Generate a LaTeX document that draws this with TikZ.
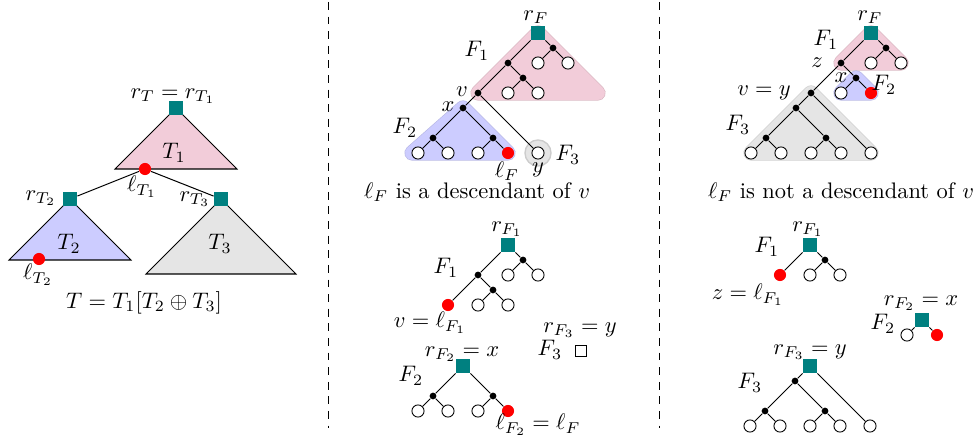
\documentclass[tikz,border=0pt]{standalone}
\usepackage{amsmath}
\begin{document}
\begin{tikzpicture}[x=0.445pt,y=-0.445pt,
  rootsq/.style={rectangle,fill=teal,minimum size=6.2pt,inner sep=0pt},
  wsq/.style={rectangle,draw=black,fill=white,minimum size=5.2pt,inner sep=0pt,line width=0.4pt},
  bdot/.style={circle,fill=black,minimum size=3pt,inner sep=0pt},
  wleaf/.style={circle,draw=black,fill=white,minimum size=5.4pt,inner sep=0pt,line width=0.4pt},
  rleaf/.style={circle,fill=red,minimum size=5.4pt,inner sep=0pt},
  edge/.style={draw=black,line width=0.45pt},
  regedge/.style={line width=6.8pt,line join=round},
  region/.style={line width=6.2pt,line join=round},
  tri/.style={draw=black,line width=0.45pt},
  lbl/.style={inner sep=0pt},
  sep/.style={dash pattern=on 3.5pt off 3pt,line width=0.4pt}
]
\useasboundingbox (0,0) rectangle (977,437);

% separators
\coordinate (s1a) at (328,2); \coordinate (s1b) at (328,428);
\coordinate (s2a) at (659,2); \coordinate (s2b) at (659,428);
\draw[sep] (s1a) -- (s1b);
\draw[sep] (s2a) -- (s2b);

% ---------------- left panel ----------------
\filldraw[tri,fill=purple!20] (176,108)--(115,169)--(237,169)--cycle;
\filldraw[tri,fill=blue!20] (70,199)--(9,260)--(131,260)--cycle;
\filldraw[tri,fill=gray!20] (221,199)--(146,274)--(296,274)--cycle;
\node[rootsq] (tr1) at (176,108) {};
\node[rleaf] (tl1) at (145,169) {};
\node[rootsq] (tr2) at (70,199) {};
\node[rootsq] (tr3) at (221,199) {};
\node[rleaf] (tl2) at (39,259) {};
\draw[edge] (tl1) -- (tr2);
\draw[edge] (tl1) -- (tr3);
\node[lbl] (ltr1) at (173,96) {$r_T = r_{T_1}$};
\node[lbl] (lT1) at (174,153) {$T_1$};
\node[lbl] (lll1) at (142,187) {$\ell_{T_1}$};
\node[lbl] (ltr2) at (41,198) {$r_{T_2}$};
\node[lbl] (lT2) at (69,244) {$T_2$};
\node[lbl] (lll2) at (38,275) {$\ell_{T_2}$};
\node[lbl] (ltr3) at (195,199) {$r_{T_3}$};
\node[lbl] (lT3) at (220,244) {$T_3$};
\node[lbl] (lform) at (144,303) {$T = T_1[T_2 \oplus T_3]$};

% ---------------- middle top ----------------
\begin{scope}[shift={(538,33)},x=6.675pt,y=-6.675pt]
 \filldraw[regedge,fill=purple!20!white!90!black,draw=purple!20!white!90!black] (0,0)--(-4,4)--(4,4)--cycle;
 \filldraw[region,fill=purple!20,draw=purple!20] (0,0)--(-4,4)--(4,4)--cycle;
 \filldraw[regedge,fill=blue!20!white!90!black,draw=blue!20!white!90!black] (-5,5)--(-8.4,8)--(-2,8)--cycle;
 \filldraw[region,fill=blue!20,draw=blue!20] (-5,5)--(-8.4,8)--(-2,8)--cycle;
 \filldraw[fill=gray!20,draw=gray!40,line width=0.6pt] (0,8) circle[radius=5.8pt];
 \node[rootsq] (mr) at (0,0) {};
 \node[bdot] (ma) at (1,1) {};
 \node[wleaf] (ma1) at (0,2) {};
 \node[wleaf] (ma2) at (2,2) {};
 \node[bdot] (mb) at (-2,2) {};
 \node[bdot] (mc) at (-1,3) {};
 \node[wleaf] (mc1) at (-2,4) {};
 \node[wleaf] (mc2) at (0,4) {};
 \node[bdot] (mv) at (-4,4) {};
 \node[bdot] (mx) at (-5,5) {};
 \node[bdot] (mx1) at (-7,7) {};
 \node[bdot] (mx2) at (-3,7) {};
 \node[wleaf] (ml1) at (-8,8) {};
 \node[wleaf] (ml2) at (-6,8) {};
 \node[wleaf] (ml3) at (-4,8) {};
 \node[rleaf] (ml4) at (-2,8) {};
 \node[wleaf] (my) at (0,8) {};
 \draw[edge] (mr)--(ma); \draw[edge] (mr)--(mb);
 \draw[edge] (ma)--(ma1); \draw[edge] (ma)--(ma2);
 \draw[edge] (mb)--(mv); \draw[edge] (mb)--(mc);
 \draw[edge] (mc)--(mc1); \draw[edge] (mc)--(mc2);
 \draw[edge] (mv)--(mx); \draw[edge] (mv)--(my);
 \draw[edge] (mx)--(mx1); \draw[edge] (mx)--(mx2);
 \draw[edge] (mx1)--(ml1); \draw[edge] (mx1)--(ml2);
 \draw[edge] (mx2)--(ml3); \draw[edge] (mx2)--(ml4);
\end{scope}
\node[lbl] (mlrf) at (536,17) {$r_F$};
\node[lbl] (mlF1) at (477,51) {$F_1$};
\node[lbl] (mlv) at (462,92) {$v$};
\node[lbl] (mlx) at (448,107) {$x$};
\node[lbl] (mlF2) at (405,128) {$F_2$};
\node[lbl] (mlF3) at (568,155) {$F_3$};
\node[lbl] (mllF) at (507,171) {$\ell_F$};
\node[lbl] (mly) at (538,170) {$y$};
\node[lbl] (mtitle) at (477,192) {$\ell_F$ is a descendant of $v$};

% ---------------- middle bottom ----------------
\begin{scope}[shift={(508,245)},x=6.675pt,y=-6.675pt]
 \node[rootsq] (nr) at (0,0) {};
 \node[bdot] (na) at (1,1) {};
 \node[wleaf] (na1) at (0,2) {};
 \node[wleaf] (na2) at (2,2) {};
 \node[bdot] (nb) at (-2,2) {};
 \node[bdot] (nc) at (-1,3) {};
 \node[wleaf] (nc1) at (-2,4) {};
 \node[wleaf] (nc2) at (0,4) {};
 \node[rleaf] (nv) at (-4,4) {};
 \draw[edge] (nr)--(na); \draw[edge] (nr)--(nb);
 \draw[edge] (na)--(na1); \draw[edge] (na)--(na2);
 \draw[edge] (nb)--(nv); \draw[edge] (nb)--(nc);
 \draw[edge] (nc)--(nc1); \draw[edge] (nc)--(nc2);
\end{scope}
\node[lbl] (nlrf) at (507,229) {$r_{F_1}$};
\node[lbl] (nlF1) at (446,268) {$F_1$};
\node[lbl] (nlv) at (430,323) {$v = \ell_{F_1}$};
\node[lbl] (nlrf3) at (580,330) {$r_{F_3} = y$};
\node[lbl] (nlF3) at (550,350) {$F_3$};
\node[wsq] (nsq) at (581,351) {};
\begin{scope}[shift={(463,366)},x=6.675pt,y=-6.675pt]
 \node[rootsq] (pr) at (0,0) {};
 \node[bdot] (pa) at (-2,2) {};
 \node[bdot] (pb) at (2,2) {};
 \node[wleaf] (pl1) at (-3,3) {};
 \node[wleaf] (pl2) at (-1,3) {};
 \node[wleaf] (pl3) at (1,3) {};
 \node[rleaf] (pl4) at (3,3) {};
 \draw[edge] (pr)--(pa); \draw[edge] (pr)--(pb);
 \draw[edge] (pa)--(pl1); \draw[edge] (pa)--(pl2);
 \draw[edge] (pb)--(pl3); \draw[edge] (pb)--(pl4);
\end{scope}
\node[lbl] (plr) at (462,354) {$r_{F_2} = x$};
\node[lbl] (plF2) at (411,376) {$F_2$};
\node[lbl] (pll) at (538,425) {$\ell_{F_2} = \ell_F$};

% ---------------- right top ----------------
\begin{scope}[shift={(871,33)},x=6.675pt,y=-6.675pt]
 \filldraw[regedge,fill=gray!20!white!90!black,draw=gray!20!white!90!black] (-4,4)--(-8,8)--(0,8)--cycle;
 \filldraw[region,fill=gray!20,draw=gray!20] (-4,4)--(-8,8)--(0,8)--cycle;
 \filldraw[regedge,fill=purple!20!white!90!black,draw=purple!20!white!90!black] (0,0)--(-2,2)--(2,2)--cycle;
 \filldraw[region,fill=purple!20,draw=purple!20] (0,0)--(-2,2)--(2,2)--cycle;
 \filldraw[regedge,fill=blue!20!white!90!black,draw=blue!20!white!90!black] (-1,3)--(-2,4)--(0,4)--cycle;
 \filldraw[region,fill=blue!20,draw=blue!20] (-1,3)--(-2,4)--(0,4)--cycle;
 \node[rootsq] (qr) at (0,0) {};
 \node[bdot] (qa) at (1,1) {};
 \node[wleaf] (qa1) at (0,2) {};
 \node[wleaf] (qa2) at (2,2) {};
 \node[bdot] (qz) at (-2,2) {};
 \node[bdot] (qx) at (-1,3) {};
 \node[wleaf] (qx1) at (-2,4) {};
 \node[rleaf] (qx2) at (0,4) {};
 \node[bdot] (qy) at (-4,4) {};
 \node[bdot] (qb) at (-5,5) {};
 \node[bdot] (qb1) at (-7,7) {};
 \node[bdot] (qb2) at (-3,7) {};
 \node[wleaf] (ql1) at (-8,8) {};
 \node[wleaf] (ql2) at (-6,8) {};
 \node[wleaf] (ql3) at (-4,8) {};
 \node[wleaf] (ql4) at (-2,8) {};
 \node[wleaf] (ql5) at (0,8) {};
 \draw[edge] (qr)--(qa); \draw[edge] (qr)--(qz);
 \draw[edge] (qa)--(qa1); \draw[edge] (qa)--(qa2);
 \draw[edge] (qz)--(qx); \draw[edge] (qz)--(qy);
 \draw[edge] (qx)--(qx1); \draw[edge] (qx)--(qx2);
 \draw[edge] (qy)--(qb); \draw[edge] (qy)--(ql5);
 \draw[edge] (qb)--(qb1); \draw[edge] (qb)--(qb2);
 \draw[edge] (qb1)--(ql1); \draw[edge] (qb1)--(ql2);
 \draw[edge] (qb2)--(ql3); \draw[edge] (qb2)--(ql4);
\end{scope}
\node[lbl] (qlrf) at (870,17) {$r_F$};
\node[lbl] (qlF1) at (826,40) {$F_1$};
\node[lbl] (qlz) at (817,63) {$z$};
\node[lbl] (qlx) at (841,78) {$x$};
\node[lbl] (qlF2) at (884,85) {$F_2$};
\node[lbl] (qlvy) at (764,93) {$v = y$};
\node[lbl] (qlF3) at (738,125) {$F_3$};
\node[lbl] (qtitle) at (841,192) {$\ell_F$ is not a descendant of $v$};

% ---------------- right bottom ----------------
\begin{scope}[shift={(810,245)},x=6.675pt,y=-6.675pt]
 \node[rootsq] (ur) at (0,0) {};
 \node[bdot] (ua) at (1,1) {};
 \node[wleaf] (ua1) at (0,2) {};
 \node[wleaf] (ua2) at (2,2) {};
 \node[rleaf] (uz) at (-2,2) {};
 \draw[edge] (ur)--(ua); \draw[edge] (ur)--(uz);
 \draw[edge] (ua)--(ua1); \draw[edge] (ua)--(ua2);
\end{scope}
\node[lbl] (ulrf) at (808,229) {$r_{F_1}$};
\node[lbl] (ulF1) at (767,247) {$F_1$};
\node[lbl] (ulz) at (748,295) {$z = \ell_{F_1}$};
\begin{scope}[shift={(922,320)},x=6.675pt,y=-6.675pt]
 \node[rootsq] (wr) at (0,0) {};
 \node[wleaf] (w1) at (-1,1) {};
 \node[rleaf] (w2) at (1,1) {};
 \draw[edge] (wr)--(w1); \draw[edge] (wr)--(w2);
\end{scope}
\node[lbl] (wlr) at (921,303) {$r_{F_2} = x$};
\node[lbl] (wlF2) at (883,324) {$F_2$};
\begin{scope}[shift={(810,366)},x=6.675pt,y=-6.675pt]
 \node[rootsq] (vr) at (0,0) {};
 \node[bdot] (vb) at (-1,1) {};
 \node[bdot] (vb1) at (-3,3) {};
 \node[bdot] (vb2) at (1,3) {};
 \node[wleaf] (vl1) at (-4,4) {};
 \node[wleaf] (vl2) at (-2,4) {};
 \node[wleaf] (vl3) at (0,4) {};
 \node[wleaf] (vl4) at (2,4) {};
 \node[wleaf] (vl5) at (4,4) {};
 \draw[edge] (vr)--(vb); \draw[edge] (vr)--(vl5);
 \draw[edge] (vb)--(vb1); \draw[edge] (vb)--(vb2);
 \draw[edge] (vb1)--(vl1); \draw[edge] (vb1)--(vl2);
 \draw[edge] (vb2)--(vl3); \draw[edge] (vb2)--(vl4);
\end{scope}
\node[lbl] (vlr) at (810,352) {$r_{F_3} = y$};
\node[lbl] (vlF3) at (750,383) {$F_3$};
\end{tikzpicture}
\end{document}
